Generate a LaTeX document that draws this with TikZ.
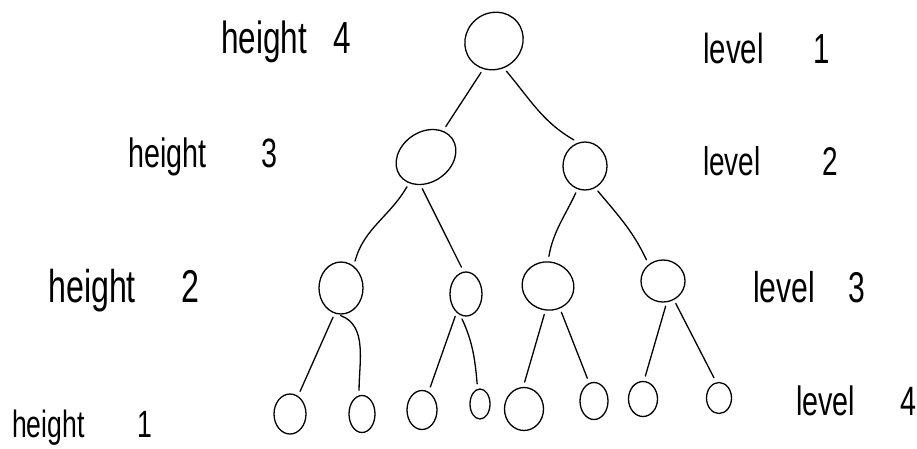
\documentclass[tikz,border=0pt]{standalone}
\usepackage{fontspec}
\setmainfont{Liberation Sans}[FakeStretch=0.7]
\usetikzlibrary{shapes.geometric}
\begin{document}
\begin{tikzpicture}[x=1pt,y=1pt,
  tn/.style={draw, ellipse, line width=1.3pt, inner sep=0pt},
  edge/.style={line width=1.3pt, line cap=round, shorten <=4pt, shorten >=5pt},
  lbl/.style={anchor=base west, inner sep=0pt}]
\useasboundingbox (0,0) rectangle (917,-448);
% tree nodes
\node[tn, minimum width=60pt, minimum height=56pt, rotate=40] (root) at (494,-41) {};
\node[tn, minimum width=64pt, minimum height=50pt, rotate=35] (l2a) at (426,-157) {};
\node[tn, minimum width=44pt, minimum height=48pt] (l2b) at (585,-166) {};
\node[tn, minimum width=44pt, minimum height=52pt] (l3a) at (341,-288) {};
\node[tn, minimum width=32pt, minimum height=44pt] (l3b) at (466,-294) {};
\node[tn, minimum width=52pt, minimum height=48pt, rotate=-15] (l3c) at (548,-286) {};
\node[tn, minimum width=44pt, minimum height=42pt] (l3d) at (663,-281) {};
\node[tn, minimum width=32pt, minimum height=40pt] (l4a) at (290,-414) {};
\node[tn, minimum width=26pt, minimum height=37pt] (l4b) at (362,-414) {};
\node[tn, minimum width=30pt, minimum height=39pt] (l4c) at (422,-410) {};
\node[tn, minimum width=20pt, minimum height=30pt] (l4d) at (480,-404) {};
\node[tn, minimum width=39pt, minimum height=43pt] (l4e) at (524,-409) {};
\node[tn, minimum width=28pt, minimum height=37pt] (l4f) at (594,-401) {};
\node[tn, minimum width=29pt, minimum height=35pt] (l4g) at (643,-399) {};
\node[tn, minimum width=25pt, minimum height=31pt] (l4h) at (719,-398) {};
% edges
\draw[edge] (root.209) -- (l2a.22);
\draw[edge] (root.250) to[out=-50,in=150] (l2b.106);
\draw[edge] (l2a.202) to[out=-120,in=75] (l3a.60);
\draw[edge] (l2a.224) -- (l3b.96);
\draw[edge] (l2b.252) to[out=-115,in=80] (l3c.105);
\draw[edge] (l2b.295) to[out=-50,in=115] (l3d.131);
\draw[edge] (l3a.256) -- (l4a.66);
\draw[edge] (l3a.261) to[out=-20,in=90] (l4b.99);
\draw[edge] (l3b.243) -- (l4c.70);
\draw[edge] (l3b.255) to[out=-65,in=95] (l4d.99);
\draw[edge] (l3c.279) -- (l4e.92);
\draw[edge] (l3c.313) -- (l4f.105);
\draw[edge] (l3d.280) -- (l4g.87);
\draw[edge] (l3d.300) -- (l4h.100);
% labels
\node[lbl, font=\fontsize{45}{50}\selectfont] (h4) at (221,-53) {height \hspace{18pt}4};
\node[lbl, font=\fontsize{41}{46}\selectfont] (h3) at (128,-167) {height \hspace{47pt}3};
\node[lbl, font=\fontsize{46}{50}\selectfont] (h2) at (48,-302) {height \hspace{37pt}2};
\node[lbl, font=\fontsize{38}{42}\selectfont] (h1) at (12,-437) {height \hspace{45pt}1};
\node[lbl, font=\fontsize{42}{46}\selectfont] (v1) at (703,-63) {level \hspace{42pt}1};
\node[lbl, font=\fontsize{40}{44}\selectfont] (v2) at (703,-175) {level \hspace{54pt}2};
\node[lbl, font=\fontsize{43}{46}\selectfont] (v3) at (753,-302) {level \hspace{25pt}3};
\node[lbl, font=\fontsize{41}{46}\selectfont] (v4) at (796,-415) {level \hspace{37pt}4};
\end{tikzpicture}
\end{document}
